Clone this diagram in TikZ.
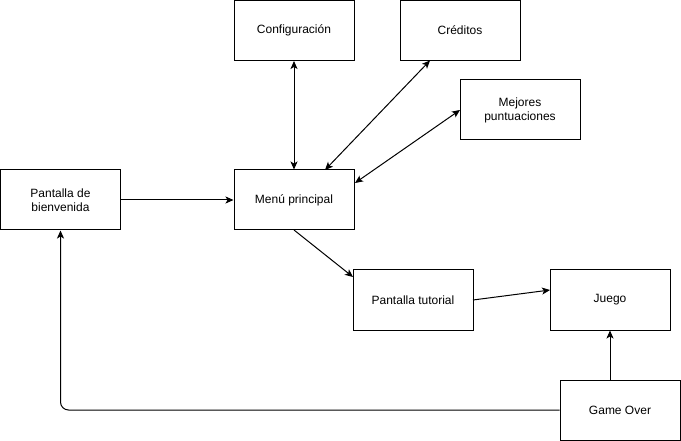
\documentclass[tikz,border=0pt]{standalone}
\usepackage{fontspec}
\setmainfont{Liberation Sans}
\usetikzlibrary{arrows.meta}
\begin{document}
\begin{tikzpicture}[x=1pt,y=-1pt,
  box/.style={draw=black,line width=1pt,minimum width=120pt,minimum height=60pt,inner sep=2pt,align=center,font=\fontsize{12}{14}\selectfont},
  conn/.style={line width=1pt,-{Stealth[length=8pt,width=7pt,inset=2pt]}},
  bconn/.style={line width=1pt,{Stealth[length=8pt,width=7pt,inset=2pt]}-{Stealth[length=8pt,width=7pt,inset=2pt]}}]
\useasboundingbox (0,0) rectangle (681,441);
\node[box] (conf) at (294,30.5) {Configuración};
\node[box] (cred) at (460,30.5) {Créditos};
\node[box] (mej) at (520,110) {Mejores\\puntuaciones};
\node[box] (bien) at (60.5,200) {Pantalla de\\bienvenida};
\node[box] (menu) at (294,200) {Menú principal};
\node[box] (tut) at (413,300) {Pantalla tutorial};
\node[box] (jue) at (610,300) {Juego};
\node[box] (go) at (620,410) {Game Over};
\coordinate (crA) at (430,60.5);
\coordinate (crB) at (325,170);
\coordinate (mjA) at (460,110);
\coordinate (mjB) at (355,183);
\coordinate (mtA) at (294,230);
\coordinate (mtB) at (353,277);
\coordinate (tjA) at (473,300);
\coordinate (tjB) at (550,290);
\coordinate (gbC) at (60.5,410);
\draw[bconn] (conf.south) -- (menu.north);
\draw[bconn] (crA) -- (crB);
\draw[bconn] (mjA) -- (mjB);
\draw[conn] (bien.east) -- (menu.west);
\draw[conn] (mtA) -- (mtB);
\draw[conn] (tjA) -- (tjB);
\draw[conn] (go.north -| jue.south) -- (jue.south);
\draw[conn,rounded corners=8pt] (go.west) -- (gbC) -- (bien.south);
\end{tikzpicture}
\end{document}
